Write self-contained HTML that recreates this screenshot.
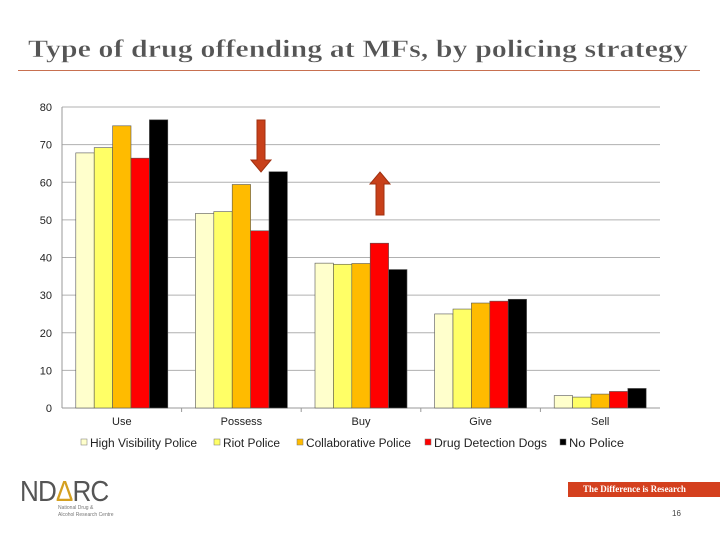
<!DOCTYPE html>
<html><head><meta charset="utf-8"><style>
body{margin:0;width:720px;height:540px;background:#fff;overflow:hidden;position:relative;font-family:"Liberation Sans",sans-serif}
#rule{position:absolute;left:18px;width:682px;top:70px;height:1px;background:#c87050}
</style></head><body>
<svg width="720" height="70" style="position:absolute;left:0;top:0"><text x="28" y="57" textLength="660" lengthAdjust="spacingAndGlyphs" font-family="Liberation Serif, serif" font-weight="bold" font-size="25" fill="#555" stroke="#fff" stroke-width="0.4">Type of drug offending at MFs, by policing strategy</text></svg>
<div id="rule"></div>
<svg id="chart" width="720" height="540" style="position:absolute;left:0;top:0"></svg>
<div style="position:absolute;left:20px;top:476px;font-family:'Liberation Sans',sans-serif;font-size:29px;color:#555;letter-spacing:-1px;transform:scaleX(0.9);transform-origin:left">ND<span style="color:#d4a020">Δ</span>RC</div>
<div style="position:absolute;left:58px;top:505px;font-size:5px;color:#777;line-height:7px">National Drug &amp;<br>Alcohol Research Centre</div>
<div style="position:absolute;left:568px;top:482px;width:152px;height:15px;background:#d4401e;color:#fff;font-family:'Liberation Serif',serif;font-size:9px;font-weight:bold;line-height:15px;padding-left:15px;box-sizing:border-box">The Difference is Research</div>
<div style="position:absolute;left:672px;top:509px;font-size:8px;color:#444">16</div>
<script>
const categories=["Use","Possess","Buy","Give","Sell"];
const seriesNames=["High Visibility Police","Riot Police","Collaborative Police","Drug Detection Dogs","No Police"];
const hvp=[67.8,51.7,38.5,25.0,3.3];
const riot=[69.2,52.2,38.2,26.3,2.9];
const collab=[75.0,59.4,38.4,27.9,3.7];
const dogs=[66.4,47.1,43.8,28.4,4.4];
const none=[76.6,62.8,36.8,28.9,5.2];
const yTicks=[0,10,20,30,40,50,60,70,80];
const series=[hvp,riot,collab,dogs,none];
const colors=["#ffffcc","#ffff66","#ffbb00","#ff0000","#000000"];
const svg=document.getElementById('chart');const NS="http://www.w3.org/2000/svg";
const x0=62,x1=660,yb=408,yt=107,ymax=80;
const y=v=>yb-(yb-yt)*v/ymax;
const cw=(x1-x0)/categories.length,bw=18.4,gw=bw*5;
function mk(t,a){const e=document.createElementNS(NS,t);for(const k in a)e.setAttribute(k,a[k]);svg.appendChild(e);return e;}
yTicks.forEach(t=>{
 const g=mk('line',{x1:x0,x2:x1,y1:y(t),y2:y(t),stroke:t?'#b0b0b0':'#999','stroke-width':1});
 
 
 const l=mk('text',{x:52,y:y(t)+4,'text-anchor':'end','font-size':11,fill:'#222'});l.textContent=t;
 
 
});
const ax=mk('line',{x1:x0,x2:x0,y1:yt,y2:yb,stroke:'#999'});


categories.forEach((c,i)=>{
 const cx=x0+cw*(i+0.5);
 if(i>0){const tk=mk('line',{x1:x0+cw*i,x2:x0+cw*i,y1:yb,y2:yb+4,stroke:'#999'});}
 series.forEach((s,j)=>{
  const r=mk('rect',{x:cx-gw/2+j*bw,y:y(s[i]),width:bw,height:yb-y(s[i]),fill:colors[j],stroke:'#555','stroke-width':0.6});
  
  
 });
 const t=mk('text',{x:cx,y:425,'text-anchor':'middle','font-size':11,fill:'#222'});t.textContent=c;
 
 
});
const lx=[81,214,297,425,560];
const lw=[107,57,105,113,55];
seriesNames.forEach((n,j)=>{
 const r=mk('rect',{x:lx[j],y:439,width:6,height:6,fill:colors[j],stroke:'#777','stroke-width':0.5});
 
 
 const t=mk('text',{x:lx[j]+9,y:447,'font-size':11.5,fill:'#222',textLength:lw[j],lengthAdjust:'spacingAndGlyphs'});t.textContent=n;
 
 
});
const a1=mk('path',{d:'M257,120 L265,120 L265,160 L271,160 L261,172 L251,160 L257,160 Z',fill:'#c8401a',stroke:'#a03010'});


const a2=mk('path',{d:'M376,215 L384,215 L384,184 L390,184 L380,172 L370,184 L376,184 Z',fill:'#c8401a',stroke:'#a03010'});


</script>
</body></html>
